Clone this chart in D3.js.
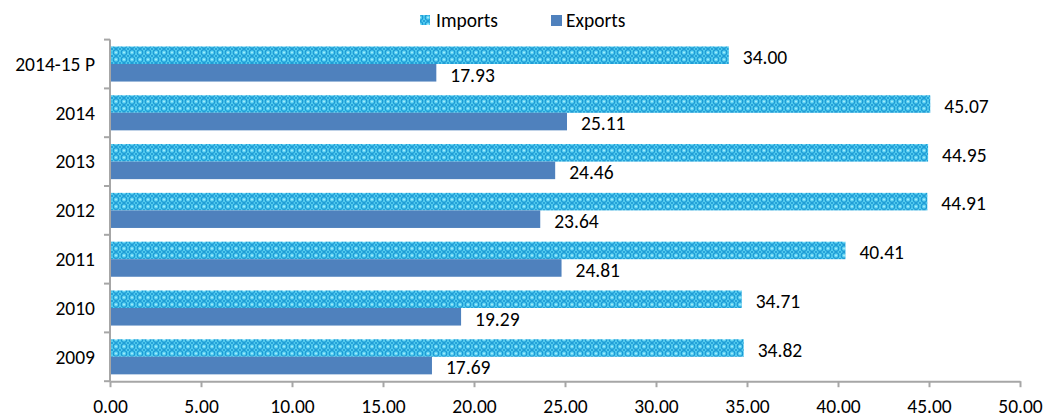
<!DOCTYPE html>
<html><head><meta charset="utf-8">
<script src="https://cdn.jsdelivr.net/npm/d3@7"></script>
<style>body{margin:0;background:#fff}svg{display:block}text{font-family:Carlito,Lato,"Open Sans","Liberation Sans",sans-serif}</style>
</head><body><div id="c"></div>
<script>
const categories = ["2014-15 P","2014","2013","2012","2011","2010","2009"];
const imports = [34.00,45.07,44.95,44.91,40.41,34.71,34.82];
const exports_ = [17.93,25.11,24.46,23.64,24.81,19.29,17.69];
const xTicks = [0,5,10,15,20,25,30,35,40,45,50];
const seriesNames = ["Imports","Exports"];

const W=1046,H=417,FS=19.5;
const svg=d3.select("#c").append("svg").attr("width",W).attr("height",H);
const defs=svg.append("defs");
const pat=defs.append("pattern").attr("id","pat").attr("width",8).attr("height",7).attr("patternUnits","userSpaceOnUse");
pat.append("rect").attr("width",8).attr("height",7).attr("fill","#55cef0");
pat.append("circle").attr("cx",4).attr("cy",3.5).attr("r",2.8).attr("fill","none").attr("stroke","#1a98d4").attr("stroke-width",1.2);
pat.append("circle").attr("cx",4).attr("cy",3.5).attr("r",1).attr("fill","#a8ebfb");
[[0,0],[8,0],[0,7],[8,7]].forEach(p=>pat.append("circle").attr("cx",p[0]).attr("cy",p[1]).attr("r",1.1).attr("fill","#1a98d4"));
const expColor="#4f81bd";

const x=d3.scaleLinear().domain([0,50]).range([110,1020]);
const y=d3.scaleBand().domain(categories).range([39.6,381.2]).paddingInner(0).paddingOuter(0);
const inner=d3.scaleBand().domain(seriesNames).range([0,y.bandwidth()]).paddingInner(0).paddingOuter(0.39);

const g=svg.append("g");
categories.forEach((c,i)=>{
  const y0=y(c);
  const vals=[imports[i],exports_[i]];
  seriesNames.forEach((s,j)=>{
    g.append("rect").attr("x",x(0)).attr("y",y0+inner(s)).attr("width",x(vals[j])-x(0)).attr("height",inner.bandwidth())
      .attr("fill",j===0?"url(#pat)":expColor);
    g.append("text").attr("x",x(vals[j])+14).attr("y",y0+inner(s)+inner.bandwidth()/2+2).attr("dy","0.35em")
      .attr("font-size",FS).attr("fill","#000").text(vals[j].toFixed(2));
  });
});

// axes
const ax=d3.axisBottom(x).tickValues(xTicks).tickFormat(d3.format(".2f")).tickSize(6).tickSizeOuter(0);
const xg=svg.append("g").attr("transform",`translate(0,${y.range()[1]})`).call(ax);
xg.select(".domain").attr("stroke","#a6a6a6").attr("stroke-width",2);
xg.selectAll(".tick line").attr("stroke","#a6a6a6").attr("stroke-width",2);
xg.selectAll("text").attr("font-size",FS).attr("fill","#000").attr("y",18).attr("dy","0.71em").style("font-family",'Carlito,Lato,"Open Sans","Liberation Sans",sans-serif');

const yg=svg.append("g");
yg.append("line").attr("x1",x(0)).attr("x2",x(0)).attr("y1",y.range()[0]).attr("y2",y.range()[1]).attr("stroke","#a6a6a6").attr("stroke-width",2);
const bounds=categories.map(c=>y(c)).concat([y.range()[1]]);
yg.selectAll("line.t").data(bounds).enter().append("line").attr("x1",x(0)-6).attr("x2",x(0)).attr("y1",d=>d).attr("y2",d=>d).attr("stroke","#a6a6a6").attr("stroke-width",2);
yg.selectAll("text").data(categories).enter().append("text").attr("x",x(0)-15).attr("y",d=>y(d)+y.bandwidth()/2).attr("dy","0.35em")
  .attr("text-anchor","end").attr("font-size",FS).text(d=>d);

// legend
const leg=svg.append("g");
leg.append("rect").attr("x",420).attr("y",15).attr("width",10).attr("height",10).attr("fill","url(#pat)");
leg.append("text").attr("x",436).attr("y",20).attr("dy","0.35em").attr("font-size",FS).text(seriesNames[0]);
leg.append("rect").attr("x",551).attr("y",15).attr("width",11).attr("height",11).attr("fill",expColor);
leg.append("text").attr("x",566).attr("y",20).attr("dy","0.35em").attr("font-size",FS).text(seriesNames[1]);
</script></body></html>
